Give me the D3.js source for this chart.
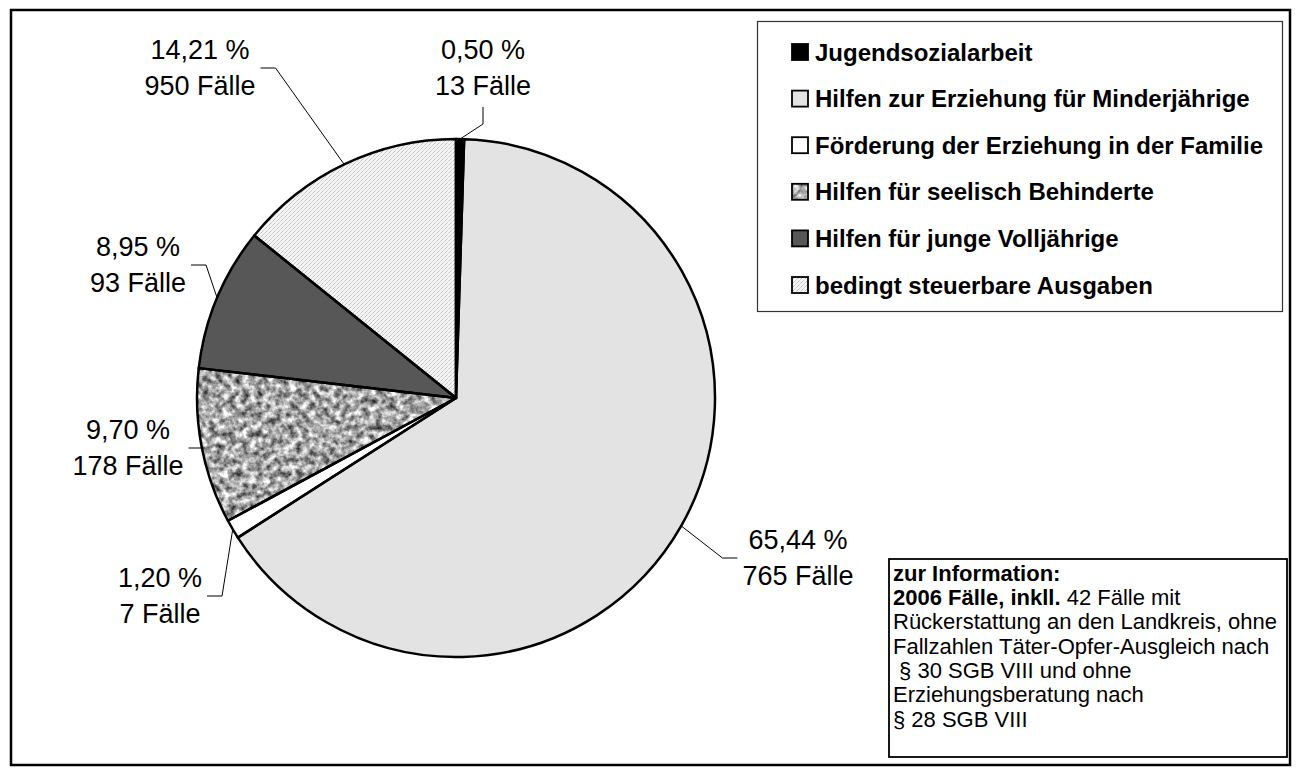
<!DOCTYPE html>
<html lang="de">
<head>
  <meta charset="UTF-8" />
  <title>Fallzahlen Jugendhilfe</title>
  <style>
    body {
      margin: 0;
      background: #fff;
      font-family: "Liberation Sans", Arial, sans-serif;
    }
    svg { display: block; }
    .slice-edge { fill: none; stroke: #000; stroke-width: 2.5; stroke-linejoin: round; }
    .leader { fill: none; stroke: #000; stroke-width: 1; }
    .lbl { font-size: 27px; fill: #000; }
    .legend-text { font-size: 24px; font-weight: bold; fill: #000; }
    .info-text { font-size: 22px; fill: #000; }
  </style>
</head>
<body>
  <svg width="1301" height="776"></svg>

  <script src="https://d3js.org/d3.v7.min.js"></script>
  <script>
    // data, clockwise from 12 o'clock
    const categories = [
      "Jugendsozialarbeit",
      "Hilfen zur Erziehung für Minderjährige",
      "Förderung der Erziehung in der Familie",
      "Hilfen für seelisch Behinderte",
      "Hilfen für junge Volljährige",
      "bedingt steuerbare Ausgaben"
    ];
    const shares = [0.50, 65.44, 1.20, 9.70, 8.95, 14.21];
    const caseCounts = [13, 765, 7, 178, 93, 950];

    const infoTitle = "zur Information:";
    const infoLead = ["2006 Fälle, inkll.", " 42 Fälle mit"];
    const infoLines = [
      "Rückerstattung an den Landkreis, ohne",
      "Fallzahlen Täter-Opfer-Ausgleich nach",
      " § 30 SGB VIII und ohne",
      "Erziehungsberatung nach",
      "§ 28 SGB VIII"
    ];

    // styling / layout
    const fills = ["#000", "#e3e3e3", "#fff", "granite", "#575757", "url(#hatch)"];
    const cx = 456, cy = 398, R = 259;
    // label centre (first line) and where the leader leaves the label
    const labelAt = [
      { x: 483, y: 50, side: "below" },
      { x: 798, y: 540, side: "left" },
      { x: 160, y: 578, side: "right" },
      { x: 128, y: 430, side: "right" },
      { x: 138, y: 247, side: "right" },
      { x: 200, y: 50, side: "right" }
    ];
    const lineGap = 36;

    const svg = d3.select("svg");
    const defs = svg.append("defs");

    // light diagonal texture
    const hatch = defs.append("pattern")
      .attr("id", "hatch")
      .attr("patternUnits", "userSpaceOnUse")
      .attr("width", 4).attr("height", 4);
    hatch.append("rect").attr("width", 4).attr("height", 4).attr("fill", "#f5f5f5");
    hatch.append("path")
      .attr("d", "M-1,5 L5,-1")
      .attr("stroke", "#a0a0a0")
      .attr("stroke-width", 0.9)
      .attr("stroke-dasharray", "2,1.2");

    // granite-like noise
    const granite = defs.append("filter")
      .attr("id", "granite")
      .attr("color-interpolation-filters", "sRGB")
      .attr("x", "0%").attr("y", "0%").attr("width", "100%").attr("height", "100%");
    granite.append("feTurbulence")
      .attr("type", "fractalNoise")
      .attr("baseFrequency", 0.15)
      .attr("numOctaves", 3)
      .attr("seed", 7)
      .attr("result", "noise");
    granite.append("feColorMatrix")
      .attr("in", "noise")
      .attr("type", "matrix")
      .attr("values", "1.4 0 0 0 -0.05  1.4 0 0 0 -0.05  1.4 0 0 0 -0.05  0 0 0 0 1")
      .attr("result", "gray");
    granite.append("feGaussianBlur")
      .attr("in", "gray")
      .attr("stdDeviation", 0.5)
      .attr("result", "soft");
    granite.append("feComposite")
      .attr("in", "soft")
      .attr("in2", "SourceGraphic")
      .attr("operator", "in");

    const fillOf = i => fills[i] === "granite" ? "#999" : fills[i];
    const filterOf = i => fills[i] === "granite" ? "url(#granite)" : null;

    // outer frame
    svg.append("rect")
      .attr("x", 11).attr("y", 10)
      .attr("width", 1279).attr("height", 755)
      .attr("fill", "none").attr("stroke", "#000").attr("stroke-width", 2.5);

    const pie = d3.pie().sort(null).value(d => d)(shares);
    const arc = d3.arc().innerRadius(0).outerRadius(R);

    const g = svg.append("g").attr("transform", `translate(${cx},${cy})`);

    g.selectAll("path.slice")
      .data(pie)
      .enter()
      .append("path")
      .attr("class", "slice")
      .attr("d", arc)
      .attr("fill", (d, i) => fillOf(i))
      .attr("filter", (d, i) => filterOf(i));

    g.selectAll("path.slice-edge")
      .data(pie)
      .enter()
      .append("path")
      .attr("class", "slice-edge")
      .attr("d", arc);

    // data labels + leader lines
    const fmt = v => d3.format(".2f")(v).replace(".", ",") + " %";

    pie.forEach((d, i) => {
      const pos = labelAt[i];
      const t1 = svg.append("text")
        .attr("class", "lbl")
        .attr("x", pos.x).attr("y", pos.y)
        .attr("text-anchor", "middle")
        .attr("dominant-baseline", "central")
        .text(fmt(shares[i]));
      const t2 = svg.append("text")
        .attr("class", "lbl")
        .attr("x", pos.x).attr("y", pos.y + lineGap)
        .attr("text-anchor", "middle")
        .attr("dominant-baseline", "central")
        .text(caseCounts[i] + " Fälle");

      const half = Math.max(t1.node().getComputedTextLength(), t2.node().getComputedTextLength()) / 2;
      const mid = (d.startAngle + d.endAngle) / 2;
      const end = [cx + R * Math.sin(mid), cy - R * Math.cos(mid)];
      let start, elbow;
      if (pos.side === "below") {
        start = [pos.x, pos.y + lineGap + 21];
        elbow = [pos.x, start[1] + 17];
      } else if (pos.side === "right") {
        start = [pos.x + half + 5, pos.y + lineGap / 2];
        elbow = [start[0] + 15, start[1]];
      } else {
        start = [pos.x - half - 5, pos.y + lineGap / 2];
        elbow = [start[0] - 15, start[1]];
      }
      svg.append("path")
        .attr("class", "leader")
        .attr("d", d3.line()([start, elbow, end]));
    });

    // legend
    const lg = svg.append("g");
    lg.append("rect")
      .attr("x", 757.5).attr("y", 21.5)
      .attr("width", 525).attr("height", 290)
      .attr("fill", "#fff").attr("stroke", "#333").attr("stroke-width", 1.2);

    const rowY = d3.scalePoint().domain(categories).range([52, 285]);

    categories.forEach((c, i) => {
      const y = rowY(c);
      lg.append("rect")
        .attr("x", 792).attr("y", y - 8)
        .attr("width", 16).attr("height", 16)
        .attr("fill", fillOf(i))
        .attr("filter", filterOf(i));
      lg.append("rect")
        .attr("x", 792).attr("y", y - 8)
        .attr("width", 16).attr("height", 16)
        .attr("fill", "none").attr("stroke", "#000").attr("stroke-width", 1.8);
      lg.append("text")
        .attr("class", "legend-text")
        .attr("x", 815).attr("y", y)
        .attr("dominant-baseline", "central")
        .text(c);
    });

    // info box
    const ib = svg.append("g");
    ib.append("rect")
      .attr("x", 889).attr("y", 559)
      .attr("width", 398).attr("height", 198)
      .attr("fill", "#fff").attr("stroke", "#000").attr("stroke-width", 1.8);

    const infoY = d3.scaleLinear().domain([0, 6]).range([573, 719]);

    ib.append("text")
      .attr("class", "info-text")
      .attr("x", 893).attr("y", infoY(0))
      .attr("dominant-baseline", "central")
      .attr("font-weight", "bold")
      .text(infoTitle);

    const lead = ib.append("text")
      .attr("class", "info-text")
      .attr("x", 893).attr("y", infoY(1))
      .attr("dominant-baseline", "central")
      .style("white-space", "pre");
    lead.append("tspan").attr("font-weight", "bold").text(infoLead[0]);
    lead.append("tspan").text(infoLead[1]);

    infoLines.forEach((line, i) => {
      ib.append("text")
        .attr("class", "info-text")
        .attr("x", 893).attr("y", infoY(i + 2))
        .attr("dominant-baseline", "central")
        .style("white-space", "pre")
        .text(line);
    });
  </script>
</body>
</html>
